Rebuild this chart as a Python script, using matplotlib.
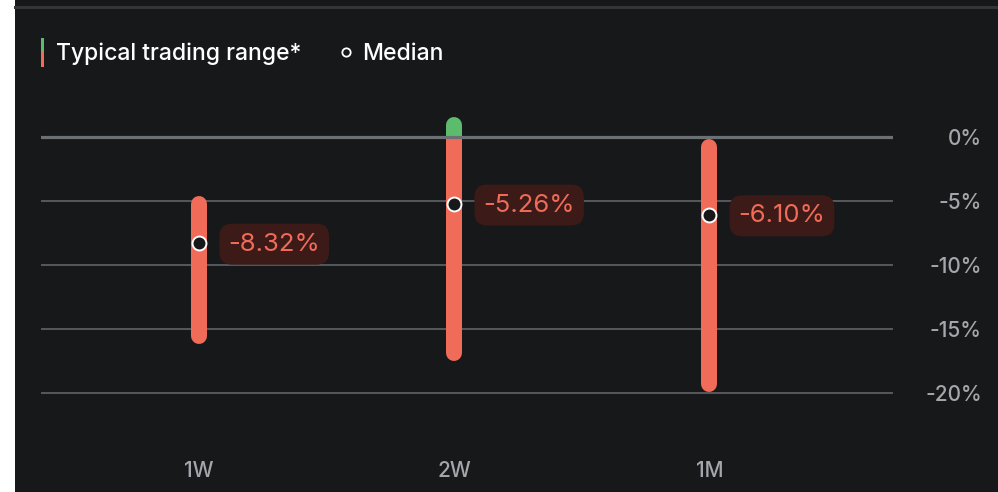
import matplotlib
matplotlib.use("Agg")
import matplotlib.pyplot as plt
from matplotlib.patches import Rectangle
from matplotlib.lines import Line2D

# ---- data ----
categories = ["1W", "2W", "1M"]
range_high = [-4.6, 1.55, -0.15]     # top of typical trading range (%)
range_low = [-16.2, -17.5, -19.9]    # bottom of typical trading range (%)
medians = [-8.32, -5.26, -6.10]
median_labels = ["-8.32%", "-5.26%", "-6.10%"]
y_ticks = [0, -5, -10, -15, -20]
y_tick_labels = ["0%", "-5%", "-10%", "-15%", "-20%"]

# ---- style ----
BG = "#17181a"
RED = "#f06b58"
GREEN = "#5dbb6e"
GRID = "#5a5e63"
ZERO = "#6b7075"
TICK = "#a3a7ab"
LBL_BG = "#3b1a17"
LBL_FG = "#f06b58"
FONT = ["Inter", "DejaVu Sans"]
plt.rcParams["font.family"] = FONT

W, H = 998, 492
DPI = 100
fig = plt.figure(figsize=(W / DPI, H / DPI), dpi=DPI, facecolor=BG)

# white strip on the left & top border line
fig.patches.append(Rectangle((0, 0), 15 / W, 1, transform=fig.transFigure,
                             facecolor="white", edgecolor="none", zorder=0))
fig.add_artist(Line2D([15 / W, 1], [1 - 6.5 / H, 1 - 6.5 / H], transform=fig.transFigure,
                      color="#333537", lw=2.2))

# axes region in pixels
x0, x1 = 41, 893
ytop, ybot = 100, 430
ax = fig.add_axes([x0 / W, 1 - ybot / H, (x1 - x0) / W, (ybot - ytop) / H])
ax.set_facecolor(BG)
px_per_pct = 12.8
ax.set_ylim(-(ybot - 137) / px_per_pct, (137 - ytop) / px_per_pct)
ax.set_xlim(-0.62, 2.72)
for s in ax.spines.values():
    s.set_visible(False)

# gridlines
for t in y_ticks:
    if t == 0:
        ax.axhline(t, color=ZERO, lw=2.3, zorder=5)
    else:
        ax.axhline(t, color=GRID, lw=1.3, zorder=1)

bar_px = 16
lw = bar_px * 72 / DPI
cap = (bar_px / 2) / px_per_pct
xs = list(range(len(categories)))
for x, hi, lo in zip(xs, range_high, range_low):
    if hi > 0:
        ax.plot([x, x], [hi - cap, -cap], color=GREEN, lw=lw, solid_capstyle="round", zorder=2)
        ax.plot([x, x], [lo + cap, -cap], color=RED, lw=lw, solid_capstyle="round", zorder=3)
        ax.plot([x, x], [-2 * cap, 0], color=RED, lw=lw, solid_capstyle="butt", zorder=3)
    else:
        ax.plot([x, x], [lo + cap, hi - cap], color=RED, lw=lw, solid_capstyle="round", zorder=3)

ax.plot(xs, medians, linestyle="none", marker="o", markersize=10,
        markerfacecolor=BG, markeredgecolor="white", markeredgewidth=1.4, zorder=6)

for x, m, lab in zip(xs, medians, median_labels):
    ax.annotate(lab, (x, m), xytext=(21, -0.5), textcoords="offset points",
                ha="left", va="center", fontsize=18.5, color=LBL_FG, zorder=7,
                bbox=dict(boxstyle="round,pad=0.35,rounding_size=0.5",
                          facecolor=LBL_BG, edgecolor="none"))

ax.set_xticks(xs)
ax.set_xticklabels(categories)
ax.set_yticks(y_ticks)
ax.set_yticklabels(y_tick_labels)
ax.yaxis.tick_right()
ax.tick_params(axis="both", length=0, colors=TICK, labelsize=15)
ax.tick_params(axis="x", pad=22)
ax.tick_params(axis="y", pad=64)
for t in ax.get_yticklabels():
    t.set_ha("right")
    t.set_fontweight(500)
for t in ax.get_xticklabels():
    t.set_fontweight(500)

# legend (manual)
fig.add_artist(Rectangle((41 / W, 1 - 52 / H), 3 / W, 14 / H, transform=fig.transFigure,
                         facecolor=GREEN, edgecolor="none"))
fig.add_artist(Rectangle((41 / W, 1 - 67 / H), 3 / W, 15 / H, transform=fig.transFigure,
                         facecolor=RED, edgecolor="none"))
fig.text(56 / W, 1 - 53.5 / H, "Typical trading range*", color="white", fontsize=16.5,
         fontweight=500, ha="left", va="center")
fig.add_artist(Line2D([346 / W], [1 - 52 / H], transform=fig.transFigure, marker="o",
                      markersize=6, markerfacecolor=BG, markeredgecolor="white",
                      markeredgewidth=1.3, linestyle="none"))
fig.text(362 / W, 1 - 53.5 / H, "Median", color="white", fontsize=16.5,
         fontweight=500, ha="left", va="center")

fig.savefig("out.png", dpi=DPI, facecolor=BG)
